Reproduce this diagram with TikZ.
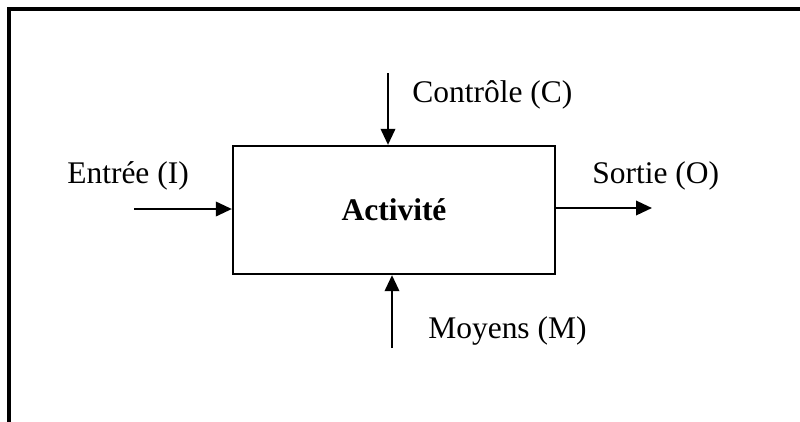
\documentclass[tikz,border=0pt]{standalone}
\usepackage{fontspec}
\setmainfont{Liberation Serif}
\usetikzlibrary{arrows.meta,positioning,calc}

\begin{document}
\begin{tikzpicture}[>={Triangle[length=4mm,width=3.6mm]},
  font=\fontsize{22.4}{27}\selectfont,
  box/.style={draw,line width=1.6pt,minimum width=8.05cm,minimum height=3.2cm,inner sep=0pt},
  lbl/.style={anchor=base west,inner sep=0pt},
  arr/.style={->,line width=1.6pt},
  frame/.style={line width=2.6pt}]

  % page size
  \useasboundingbox (0,0) rectangle (20,-10.525);

  % open frame (left and top sides only)
  \coordinate (frame_bl) at (0.225,-10.6);
  \coordinate (frame_tl) at (0.225,-0.225);
  \coordinate (frame_tr) at (20.1,-0.225);
  \draw[frame] (frame_bl) -- (frame_tl) -- (frame_tr);

  % activity box
  \node[box] (act) at (9.85,-5.25) {\textbf{Activité}};

  % free ends of the four flows
  \coordinate (in_start) at (3.35,-5.225);
  \coordinate (out_end) at (16.3,-5.2);
  \coordinate (ctrl_start) at (9.7,-1.825);
  \coordinate (means_start) at (9.8,-8.7);

  \draw[arr] (in_start) -- (in_start -| act.west);
  \draw[arr] (out_end -| act.east) -- (out_end);
  \draw[arr] (ctrl_start) -- (ctrl_start |- act.north);
  \draw[arr] (means_start) -- (means_start |- act.south);

  % labels
  \node[lbl] (in_lbl) at (1.675,-4.575) {Entrée (I)};
  \node[lbl] (out_lbl) at (14.8,-4.575) {Sortie (O)};
  \node[lbl] (ctrl_lbl) at (10.3,-2.55) {Contrôle (C)};
  \node[lbl] (means_lbl) at (10.7,-8.45) {Moyens (M)};

\end{tikzpicture}
\end{document}
